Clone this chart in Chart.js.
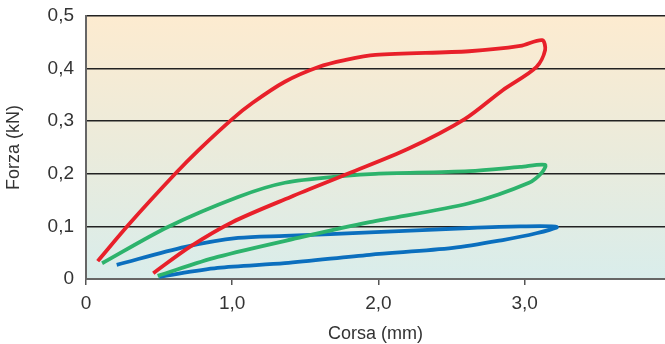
<!DOCTYPE html>
<html>
<head>
<meta charset="utf-8">
<script src="https://cdn.jsdelivr.net/npm/chart.js@4.4.1/dist/chart.umd.min.js"></script>
<style>
    html, body { margin: 0; padding: 0; background: #ffffff; }
    #wrap { width: 665px; height: 344px; }
</style>
</head>
<body>
<div id="wrap"><canvas id="forceChart" width="665" height="344"></canvas></div>
<script>
// Corsa (mm) / Forza (kN) hysteresis loops
const redX = [0.08, 0.3, 0.61, 0.77, 1.0, 1.14, 1.36, 1.59, 1.77, 1.98, 2.62, 2.97, 3.12, 3.14, 3.08, 2.85, 2.59, 2.2, 1.79, 1.4, 1.0, 0.71, 0.46];
const redY = [0.034, 0.106, 0.2, 0.245, 0.304, 0.335, 0.375, 0.403, 0.416, 0.426, 0.433, 0.443, 0.454, 0.435, 0.403, 0.359, 0.304, 0.247, 0.2, 0.156, 0.108, 0.061, 0.011];

const greenX = [0.11, 0.56, 1.04, 1.36, 1.77, 1.98, 2.62, 2.97, 3.14, 3.12, 3.03, 2.62, 1.94, 1.48, 0.9, 0.49];
const greenY = [0.03, 0.099, 0.156, 0.183, 0.196, 0.2, 0.205, 0.213, 0.217, 0.203, 0.183, 0.144, 0.108, 0.08, 0.042, 0.006];

const blueX = [0.21, 0.68, 1.04, 1.36, 1.98, 2.62, 2.97, 3.22, 3.08, 2.85, 2.51, 1.94, 1.36, 0.9, 0.5];
const blueY = [0.027, 0.061, 0.078, 0.082, 0.089, 0.097, 0.1, 0.099, 0.087, 0.074, 0.059, 0.046, 0.03, 0.021, 0.004];

const xTickValues = [0, 1, 2, 3];
const xTickLabels = ["0", "1,0", "2,0", "3,0"];
const yTickValues = [0, 0.1, 0.2, 0.3, 0.4, 0.5];
const yTickLabels = ["0", "0,1", "0,2", "0,3", "0,4", "0,5"];

const toPoints = (xs, ys) => xs.map((x, i) => ({ x: x, y: ys[i] }));

// background gradient behind the plot area
const plotBackground = {
    id: "plotBackground",
    beforeDraw(chart) {
        const { ctx, chartArea } = chart;
        const g = ctx.createLinearGradient(0, chartArea.top, 0, chartArea.bottom);
        g.addColorStop(0, "#fdebd0");
        g.addColorStop(0.5, "#ebebdb");
        g.addColorStop(1, "#d9edeb");
        ctx.save();
        ctx.fillStyle = g;
        ctx.fillRect(chartArea.left, chartArea.top, chartArea.right - chartArea.left, chartArea.bottom - chartArea.top);
        ctx.restore();
    }
};

const lineStyle = (color) => ({
    borderColor: color,
    backgroundColor: color,
    borderWidth: 3.8,
    pointRadius: 0,
    showLine: true,
    tension: 0.3,
    fill: false
});

new Chart(document.getElementById("forceChart").getContext("2d"), {
    type: "scatter",
    data: {
        datasets: [
            { label: "rosso", data: toPoints(redX, redY), ...lineStyle("#e8202a") },
            { label: "verde", data: toPoints(greenX, greenY), ...lineStyle("#2db36c") },
            { label: "blu", data: toPoints(blueX, blueY), ...lineStyle("#0b6fbe") }
        ]
    },
    options: {
        responsive: false,
        animation: false,
        layout: { padding: { top: 16, right: 0, left: 0, bottom: 0 } },
        plugins: {
            legend: { display: false },
            tooltip: { enabled: false }
        },
        scales: {
            x: {
                type: "linear",
                min: 0,
                max: 3.96,
                afterBuildTicks: (scale) => { scale.ticks = xTickValues.map(v => ({ value: v })); },
                afterFit: (scale) => {
                    scale.height = 65;
                    scale.paddingLeft = 0;
                    scale.paddingRight = 0;
                },
                ticks: {
                    callback: (v) => xTickLabels[xTickValues.indexOf(v)],
                    color: "#333",
                    padding: 7,
                    font: { family: "Liberation Sans", size: 19 },
                    maxRotation: 0
                },
                grid: {
                    drawOnChartArea: false,
                    drawTicks: true,
                    tickLength: 6,
                    color: "#555",
                    lineWidth: 1.5
                },
                border: { color: "#666", width: 2 },
                title: {
                    display: true,
                    text: "Corsa (mm)",
                    color: "#333",
                    font: { family: "Liberation Sans", size: 18 },
                    padding: { top: 0, bottom: -1 }
                }
            },
            y: {
                min: 0,
                max: 0.5,
                afterBuildTicks: (scale) => { scale.ticks = yTickValues.map(v => ({ value: v })); },
                afterFit: (scale) => {
                    scale.width = 86;
                    scale.paddingTop = 0;
                    scale.paddingBottom = 0;
                },
                ticks: {
                    callback: (v) => yTickLabels[yTickValues.indexOf(v)],
                    color: "#333",
                    padding: 12,
                    font: { family: "Liberation Sans", size: 19 }
                },
                grid: {
                    drawTicks: false,
                    color: (c) => c.tick && c.tick.value === 0 ? "rgba(0,0,0,0)" : "#222",
                    lineWidth: 1.5
                },
                border: { color: "#666", width: 2 },
                title: {
                    display: true,
                    text: "Forza (kN)",
                    color: "#333",
                    font: { family: "Liberation Sans", size: 18 },
                    padding: { top: 3, bottom: 0 }
                }
            }
        }
    },
    plugins: [plotBackground]
});
</script>
</body>
</html>
